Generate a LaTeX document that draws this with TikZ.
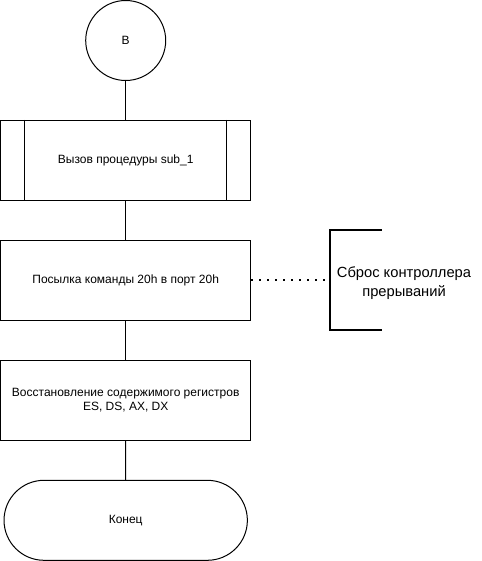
\documentclass[tikz,border=0pt]{standalone}
\usepackage{fontspec}
\setmainfont{Liberation Sans}
\usetikzlibrary{shapes.misc}

\begin{document}
\begin{tikzpicture}[x=1pt,y=-1pt,line width=1pt,
  blok/.style={draw,minimum width=250pt,minimum height=80pt,align=center,
    font=\fontsize{12}{14.5}\selectfont},
  konec/.style={blok,rounded rectangle}]
  \useasboundingbox (0,0) rectangle (481,561);
  \node[circle,draw,minimum size=80pt,inner sep=0pt,font=\fontsize{12}{14}\selectfont] (nach) at (125.7,40.5) {В};
  \node[blok] (sub) at (125.7,160.3) {Вызов процедуры sub\_1};
  \draw ([xshift=24.6pt]sub.north west) -- ([xshift=24.6pt]sub.south west);
  \draw ([xshift=-24.6pt]sub.north east) -- ([xshift=-24.6pt]sub.south east);
  \node[blok] (port) at (125.7,280) {Посылка команды 20h в порт 20h};
  \node[blok] (regs) at (125.7,400) {Восстановление содержимого регистров\\ES, DS, AX, DX};
  \node[konec] (end) at (125.7,520.3) {Конец};
  \draw (nach) -- (sub);
  \draw (sub) -- (port);
  \draw (port) -- (regs);
  \draw (regs) -- (end);
  % komentarij
  \coordinate (skobka) at (330,280);
  \draw[line width=2pt] (381.7,230) -- (330,230) -- (330,330) -- (381.7,330);
  \draw[line width=1.6pt,dash pattern=on 1.6pt off 6.4pt] (port.east) -- (skobka);
  \node[align=center,font=\fontsize{14.7}{19}\selectfont] (sbros) at (404,283) {Сброс контроллера\\прерываний};
\end{tikzpicture}
\end{document}
